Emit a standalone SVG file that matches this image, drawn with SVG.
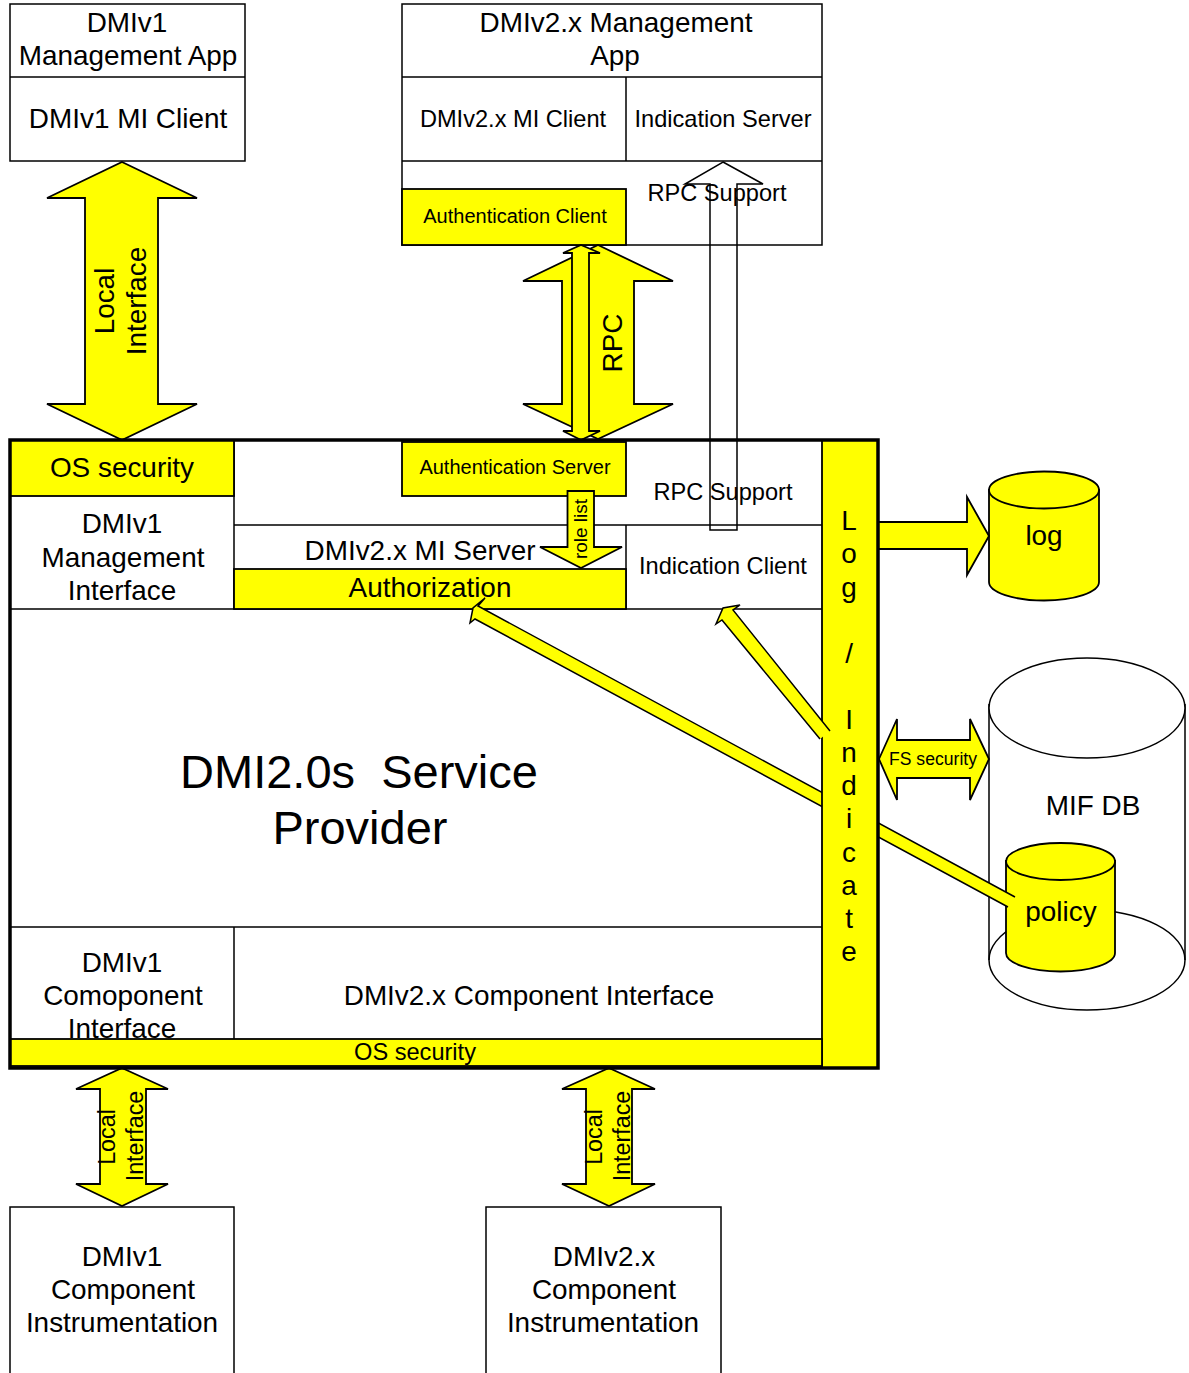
<svg xmlns="http://www.w3.org/2000/svg" width="1189" height="1373" viewBox="0 0 1189 1373">
<style>
text{font-family:"Liberation Sans",Arial,sans-serif;fill:#000;text-anchor:middle}
.b{fill:#fff;stroke:#000;stroke-width:1.5}
.y{fill:#ff0;stroke:#000;stroke-width:1.800}
.f{fill:#ff0;stroke:none}
.l{fill:none;stroke:#000;stroke-width:1.5}
.t27{font-size:27.900px}.t25{font-size:23.600px}.t20{font-size:20px}
</style>
<rect width="1189" height="1373" fill="#fff"/>
<g id="dmiv1-app">
<rect class="b" x="10" y="4" width="235" height="157"/><path class="l" d="M10 77H245"/>
<text class="t27" x="127" y="32">DMIv1</text><text class="t27" x="128" y="65">Management App</text><text class="t27" x="128" y="128">DMIv1 MI Client</text>
</g>
<g id="dmiv2-app">
<rect class="b" x="402" y="4" width="420" height="241"/><path class="l" d="M402 77H822M402 161H822M626 77V161"/>
<text class="t27" x="616" y="32">DMIv2.x Management</text><text class="t27" x="615" y="65">App</text>
<text class="t25" x="513" y="127">DMIv2.x MI Client</text><text class="t25" x="723" y="127">Indication Server</text>
<text class="t25" x="717" y="201">RPC Support</text>
<rect class="y" x="402" y="189" width="224" height="56"/><text class="t20" x="515" y="223">Authentication Client</text>
</g>
<g id="service-provider">
<rect x="10" y="440" width="868" height="628" fill="#fff"/>
<path class="l" d="M234 440V609M234 525H822M626 525V609M10 609H822M10 927H822M234 927V1039"/>
<text class="t25" x="723" y="500">RPC Support</text>
<text class="t27" x="420" y="560">DMIv2.x MI Server</text>
<text class="t25" x="723" y="574">Indication Client</text>
<text class="t27" x="122" y="533">DMIv1</text><text class="t27" x="123" y="567">Management</text><text class="t27" x="122" y="600">Interface</text>
<text font-size="47" x="359" y="788" xml:space="preserve" style="white-space:pre">DMI2.0s  Service</text><text font-size="47" x="360" y="844">Provider</text>
<text class="t27" x="122" y="972">DMIv1</text><text class="t27" x="123" y="1005">Comoponent</text><text class="t27" x="122" y="1038">Interface</text>
<text class="t27" x="529" y="1005">DMIv2.x Component Interface</text>
<rect class="y" x="234" y="569" width="392" height="40"/><text class="t27" x="430" y="597">Authorization</text>
<rect class="y" x="10" y="440" width="224" height="56"/><text class="t27" x="122" y="477">OS security</text>
<rect class="y" x="402" y="442" width="224" height="54"/><text class="t20" x="515" y="474">Authentication Server</text>
</g>
<g id="mif-db">
<ellipse class="b" cx="1087" cy="960" rx="98" ry="50"/>
<path class="l" d="M989 704V960M1185 704V960"/><ellipse class="b" cx="1087" cy="708" rx="98" ry="50"/>
<text class="t27" x="1093" y="815">MIF DB</text>
</g>
<g id="policy">
<path d="M1006 861V953A54.500 18.500 0 0 0 1115 953V861Z" class="y"/><ellipse class="y" cx="1060.500" cy="861.500" rx="54.500" ry="18.500"/>
<text class="t27" x="1061" y="921">policy</text>
</g>
<g id="log">
<path d="M989 490V582A55 18.500 0 0 0 1099 582V490Z" class="y"/><ellipse class="y" cx="1044" cy="490" rx="55" ry="18.500"/>
<text class="t27" x="1044" y="545">log</text>
</g>
<g id="connectors">
<path class="y" d="M122 162L197 198H158V404H197L122 440L47 404H85V198H47Z"/>
<path class="y" d="M598 245L673 281H634V404H673L598 439L523 404H562V281H523Z"/>
<path class="y" d="M581 245L600 253H589V431H600L581 440L563 431H572V253H563Z"/>
<path class="l" d="M723 162L763 184H737V530H710V184H685Z"/>
<path class="y" d="M567.500 491H594V547H622L581 568L540 547H567.500Z"/>
<path class="y" d="M878 522H967V497L989 536L967 575V549H878Z"/>
<path class="y" d="M879 759L897 719V740H970V719L989 759L970 800V778H897V800Z"/>
<path class="y" d="M122 1068L168 1089H146V1184H168L122 1206L76 1184H100V1089H76Z"/>
<path class="y" d="M609 1068L655 1089H632V1184H655L609 1206L562 1184H586V1089H562Z"/>
<path class="f" d="M473 608L485 598L478 606L1015 897L1008 907L475 619L470 623Z"/>
<path class="l" stroke-width="2" d="M1015 897L478 606L485 598L473 608L470 623L475 619L1008 907"/>
</g>
<g id="log-indicate">
<rect class="y" x="822" y="440" width="56" height="628"/>
<path class="f" d="M723 608L740 605L733 610L830 731L820 739L722 620L716 624Z"/>
<path class="l" stroke-width="2" d="M830 731L733 610L740 605L723 608L716 624L722 620L820 739"/>
<text font-size="27.900" x="849" y="530">L</text><text font-size="27.900" x="849" y="563">o</text><text font-size="27.900" x="849" y="597">g</text><text font-size="27.900" x="849" y="663">/</text><text font-size="27.900" x="849" y="729">I</text><text font-size="27.900" x="849" y="762">n</text><text font-size="27.900" x="849" y="795">d</text><text font-size="27.900" x="849" y="828">i</text><text font-size="27.900" x="849" y="862">c</text><text font-size="27.900" x="849" y="895">a</text><text font-size="27.900" x="849" y="928">t</text><text font-size="27.900" x="849" y="961">e</text>
</g>
<g id="frame">
<rect class="y" x="10" y="1039" width="812" height="27"/><text font-size="23.600" x="415" y="1060">OS security</text>
<rect x="10" y="440" width="868" height="628" fill="none" stroke="#000" stroke-width="3.500"/>
</g>
<g id="connector-labels">
<text class="t27" transform="translate(114,301) rotate(-90)">Local</text>
<text class="t27" transform="translate(146,301) rotate(-90)">Interface</text>
<text class="t27" transform="translate(622,343) rotate(-90)">RPC</text>
<text font-size="19" transform="translate(587,529) rotate(-90)">role list</text>
<text font-size="17.600" x="933" y="765">FS security</text>
<text font-size="23.300" transform="translate(115,1137) rotate(-90)">Local</text>
<text font-size="23.300" transform="translate(143,1136) rotate(-90)">Interface</text>
<text font-size="23.300" transform="translate(602,1137) rotate(-90)">Local</text>
<text font-size="23.300" transform="translate(630,1136) rotate(-90)">Interface</text>
</g>
<g id="dmiv1-instrumentation">
<path class="b" d="M10 1373V1207H234V1373"/>
<text class="t27" x="122" y="1266">DMIv1</text><text class="t27" x="123" y="1299">Component</text><text class="t27" x="122" y="1332">Instrumentation</text>
</g>
<g id="dmiv2-instrumentation">
<path class="b" d="M486 1373V1207H721V1373"/>
<text class="t27" x="604" y="1266">DMIv2.x</text><text class="t27" x="604" y="1299">Component</text><text class="t27" x="603" y="1332">Instrumentation</text>
</g>
</svg>
